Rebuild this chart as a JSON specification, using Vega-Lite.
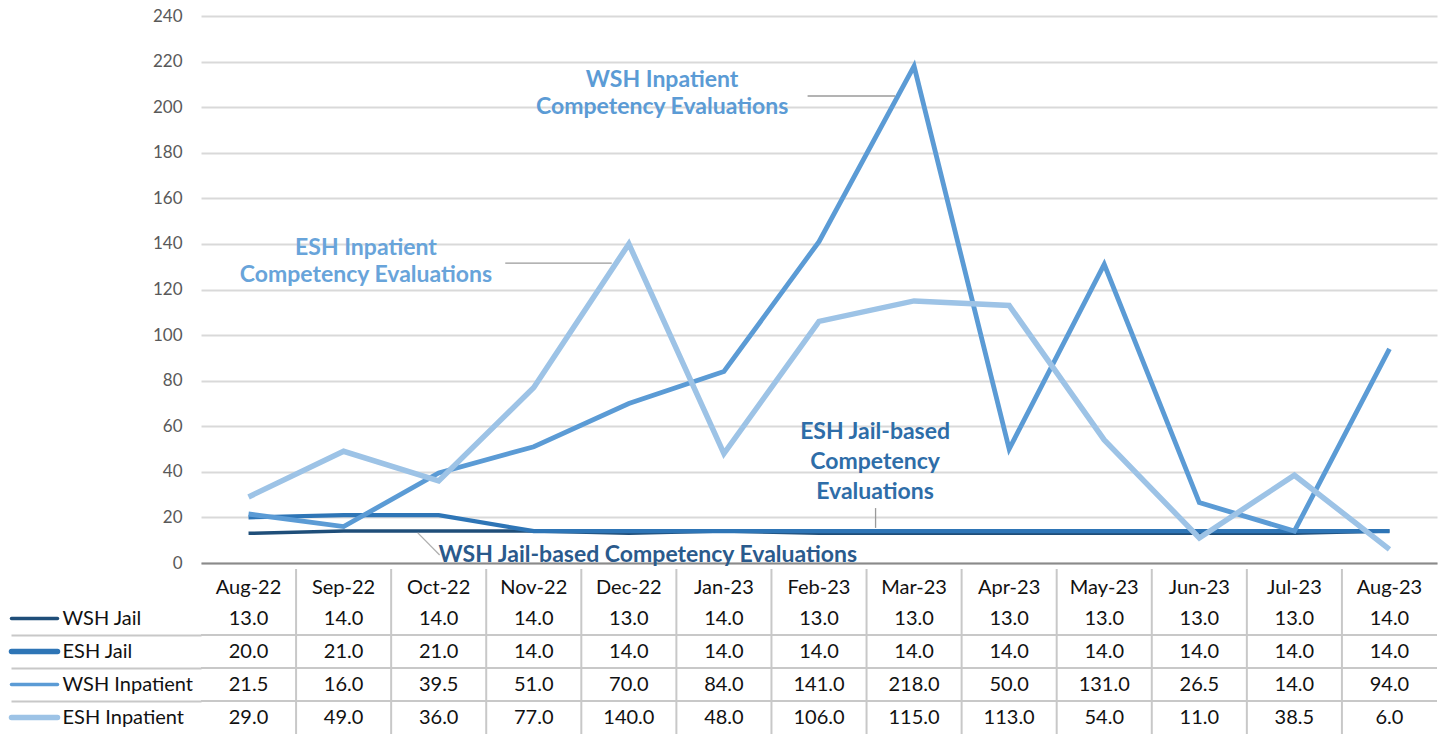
{
  "$schema": "https://vega.github.io/schema/vega-lite/v6.json",
  "padding": {"left": 8, "top": 7, "right": 0, "bottom": 0},
  "autosize": {"type": "pad"},
  "background": "white",
  "config": {"view": {"stroke": null}, "font": "Lato", "text": {"font": "Lato"}},
  "datasets": {
    "months": [
      {"month": "Aug-22"}, {"month": "Sep-22"}, {"month": "Oct-22"}, {"month": "Nov-22"}, {"month": "Dec-22"},
      {"month": "Jan-23"}, {"month": "Feb-23"}, {"month": "Mar-23"}, {"month": "Apr-23"}, {"month": "May-23"},
      {"month": "Jun-23"}, {"month": "Jul-23"}, {"month": "Aug-23"}
    ],
    "vals": [
      {"month": "Aug-22", "series": "WSH Jail", "value": 13},
      {"month": "Sep-22", "series": "WSH Jail", "value": 14},
      {"month": "Oct-22", "series": "WSH Jail", "value": 14},
      {"month": "Nov-22", "series": "WSH Jail", "value": 14},
      {"month": "Dec-22", "series": "WSH Jail", "value": 13},
      {"month": "Jan-23", "series": "WSH Jail", "value": 14},
      {"month": "Feb-23", "series": "WSH Jail", "value": 13},
      {"month": "Mar-23", "series": "WSH Jail", "value": 13},
      {"month": "Apr-23", "series": "WSH Jail", "value": 13},
      {"month": "May-23", "series": "WSH Jail", "value": 13},
      {"month": "Jun-23", "series": "WSH Jail", "value": 13},
      {"month": "Jul-23", "series": "WSH Jail", "value": 13},
      {"month": "Aug-23", "series": "WSH Jail", "value": 14},
      {"month": "Aug-22", "series": "ESH Jail", "value": 20},
      {"month": "Sep-22", "series": "ESH Jail", "value": 21},
      {"month": "Oct-22", "series": "ESH Jail", "value": 21},
      {"month": "Nov-22", "series": "ESH Jail", "value": 14},
      {"month": "Dec-22", "series": "ESH Jail", "value": 14},
      {"month": "Jan-23", "series": "ESH Jail", "value": 14},
      {"month": "Feb-23", "series": "ESH Jail", "value": 14},
      {"month": "Mar-23", "series": "ESH Jail", "value": 14},
      {"month": "Apr-23", "series": "ESH Jail", "value": 14},
      {"month": "May-23", "series": "ESH Jail", "value": 14},
      {"month": "Jun-23", "series": "ESH Jail", "value": 14},
      {"month": "Jul-23", "series": "ESH Jail", "value": 14},
      {"month": "Aug-23", "series": "ESH Jail", "value": 14},
      {"month": "Aug-22", "series": "WSH Inpatient", "value": 21.5},
      {"month": "Sep-22", "series": "WSH Inpatient", "value": 16},
      {"month": "Oct-22", "series": "WSH Inpatient", "value": 39.5},
      {"month": "Nov-22", "series": "WSH Inpatient", "value": 51},
      {"month": "Dec-22", "series": "WSH Inpatient", "value": 70},
      {"month": "Jan-23", "series": "WSH Inpatient", "value": 84},
      {"month": "Feb-23", "series": "WSH Inpatient", "value": 141},
      {"month": "Mar-23", "series": "WSH Inpatient", "value": 218},
      {"month": "Apr-23", "series": "WSH Inpatient", "value": 50},
      {"month": "May-23", "series": "WSH Inpatient", "value": 131},
      {"month": "Jun-23", "series": "WSH Inpatient", "value": 26.5},
      {"month": "Jul-23", "series": "WSH Inpatient", "value": 14},
      {"month": "Aug-23", "series": "WSH Inpatient", "value": 94},
      {"month": "Aug-22", "series": "ESH Inpatient", "value": 29},
      {"month": "Sep-22", "series": "ESH Inpatient", "value": 49},
      {"month": "Oct-22", "series": "ESH Inpatient", "value": 36},
      {"month": "Nov-22", "series": "ESH Inpatient", "value": 77},
      {"month": "Dec-22", "series": "ESH Inpatient", "value": 140},
      {"month": "Jan-23", "series": "ESH Inpatient", "value": 48},
      {"month": "Feb-23", "series": "ESH Inpatient", "value": 106},
      {"month": "Mar-23", "series": "ESH Inpatient", "value": 115},
      {"month": "Apr-23", "series": "ESH Inpatient", "value": 113},
      {"month": "May-23", "series": "ESH Inpatient", "value": 54},
      {"month": "Jun-23", "series": "ESH Inpatient", "value": 11},
      {"month": "Jul-23", "series": "ESH Inpatient", "value": 38.5},
      {"month": "Aug-23", "series": "ESH Inpatient", "value": 6}
    ]
  },
  "bounds": "flush",
  "spacing": 6,
  "vconcat": [
    {
      "width": 1236,
      "height": 547,
      "layer": [
        {
          "data": {"name": "vals"},
          "mark": {"type": "line"},
          "encoding": {
            "x": {
              "field": "month", "type": "ordinal", "bandPosition": 0.5,
              "scale": {"type": "band", "domain": ["Aug-22","Sep-22","Oct-22","Nov-22","Dec-22","Jan-23","Feb-23","Mar-23","Apr-23","May-23","Jun-23","Jul-23","Aug-23"], "paddingInner": 0, "paddingOuter": 0},
              "axis": {"labels": false, "ticks": false, "grid": false, "title": null, "domainColor": "#8a8a8a", "domainWidth": 2}
            },
            "y": {
              "field": "value", "type": "quantitative",
              "scale": {"domain": [0, 240], "nice": false},
              "axis": {"title": null, "values": [0,20,40,60,80,100,120,140,160,180,200,220,240], "domain": false, "ticks": false, "labelFontSize": 17, "labelColor": "#595959", "labelPadding": 19, "labelFont": "Lato", "gridColor": "#d9d9d9", "gridWidth": 2}
            },
            "color": {
              "field": "series", "type": "nominal",
              "scale": {"domain": ["WSH Jail","ESH Jail","WSH Inpatient","ESH Inpatient"], "range": ["#1F4E79","#2E75B6","#5B9BD5","#9DC3E6"]},
              "legend": null
            },
            "strokeWidth": {
              "field": "series", "type": "ordinal",
              "scale": {"domain": ["WSH Jail","ESH Jail","WSH Inpatient","ESH Inpatient"], "range": [3.5, 5.5, 3.5, 5.5]},
              "legend": null
            }
          }
        },
        {
          "layer": [
            {
              "data": {"values": [{}]},
              "mark": {"type": "text", "text": ["WSH Inpatient", "Competency Evaluations"], "align": "center", "baseline": "middle", "fontSize": 23, "fontWeight": "bold", "color": "#5B9BD5", "lineHeight": 27},
              "encoding": {
                "x": {"datum": 4.85, "type": "quantitative", "scale": {"domain": [0, 13]}, "axis": null},
                "y": {"datum": 211.9, "type": "quantitative"}
              }
            },
            {
              "data": {"values": [{}]},
              "mark": {"type": "text", "text": ["ESH Inpatient", "Competency Evaluations"], "align": "center", "baseline": "middle", "fontSize": 23, "fontWeight": "bold", "color": "#68A4DA", "lineHeight": 27},
              "encoding": {
                "x": {"datum": 1.735, "type": "quantitative", "scale": {"domain": [0, 13]}, "axis": null},
                "y": {"datum": 138.2, "type": "quantitative"}
              }
            },
            {
              "data": {"values": [{}]},
              "mark": {"type": "text", "text": ["ESH Jail-based", "Competency", "Evaluations"], "align": "center", "baseline": "middle", "fontSize": 23, "fontWeight": "bold", "color": "#2E6DA8", "lineHeight": 30},
              "encoding": {
                "x": {"datum": 7.09, "type": "quantitative", "scale": {"domain": [0, 13]}, "axis": null},
                "y": {"datum": 57.5, "type": "quantitative"}
              }
            },
            {
              "data": {"values": [{}]},
              "mark": {"type": "text", "text": "WSH Jail-based Competency Evaluations", "align": "center", "baseline": "middle", "fontSize": 23, "fontWeight": "bold", "color": "#2A5A8C"},
              "encoding": {
                "x": {"datum": 4.70, "type": "quantitative", "scale": {"domain": [0, 13]}, "axis": null},
                "y": {"datum": 3.6, "type": "quantitative"}
              }
            },
            {
              "data": {"values": [{}]},
              "mark": {"type": "rule", "color": "#9a9a9a", "strokeWidth": 1.3},
              "encoding": {
                "x": {"datum": 6.38, "type": "quantitative", "scale": {"domain": [0, 13]}, "axis": null},
                "x2": {"datum": 7.30},
                "y": {"datum": 204.9, "type": "quantitative"}
              }
            },
            {
              "data": {"values": [{}]},
              "mark": {"type": "rule", "color": "#9a9a9a", "strokeWidth": 1.3},
              "encoding": {
                "x": {"datum": 3.20, "type": "quantitative", "scale": {"domain": [0, 13]}, "axis": null},
                "x2": {"datum": 4.32},
                "y": {"datum": 131.6, "type": "quantitative"}
              }
            },
            {
              "data": {"values": [{}]},
              "mark": {"type": "rule", "color": "#9a9a9a", "strokeWidth": 1.3},
              "encoding": {
                "x": {"datum": 7.095, "type": "quantitative", "scale": {"domain": [0, 13]}, "axis": null},
                "y": {"datum": 24.1, "type": "quantitative"},
                "y2": {"datum": 15.4}
              }
            },
            {
              "data": {"values": [{}]},
              "mark": {"type": "rule", "color": "#b0b0b0", "strokeWidth": 1.3},
              "encoding": {
                "x": {"datum": 2.28, "type": "quantitative", "scale": {"domain": [0, 13]}, "axis": null},
                "x2": {"datum": 2.51},
                "y": {"datum": 13.2, "type": "quantitative"},
                "y2": {"datum": 3.5}
              }
            }
          ]
        }
      ],
      "resolve": {"scale": {"x": "independent"}}
    },
    {
      "width": 1236,
      "height": 165,
      "layer": [
        {
          "data": {"name": "months"},
          "transform": [{"filter": "datum.month !== 'Aug-22'"}],
          "mark": {"type": "rule", "color": "#c8c8c8", "strokeWidth": 2},
          "encoding": {
            "x": {
              "field": "month", "type": "ordinal", "bandPosition": 0,
              "scale": {"type": "band", "domain": ["Aug-22","Sep-22","Oct-22","Nov-22","Dec-22","Jan-23","Feb-23","Mar-23","Apr-23","May-23","Jun-23","Jul-23","Aug-23"], "paddingInner": 0, "paddingOuter": 0},
              "axis": null
            }
          }
        },
        {
          "data": {"name": "vals"},
          "transform": [{"filter": "datum.month === 'Aug-22' && datum.series !== 'WSH Jail'"}],
          "mark": {"type": "rule", "color": "#c8c8c8", "strokeWidth": 2},
          "encoding": {
            "y": {
              "field": "series", "type": "ordinal", "bandPosition": 0,
              "scale": {"type": "band", "domain": ["hdr","WSH Jail","ESH Jail","WSH Inpatient","ESH Inpatient"], "paddingInner": 0, "paddingOuter": 0},
              "axis": {
                "orient": "left", "domain": false, "labels": false, "title": null, "grid": false,
                "values": ["ESH Jail", "WSH Inpatient", "ESH Inpatient"],
                "ticks": true, "tickSize": 190, "tickColor": "#c8c8c8", "tickWidth": 2, "tickOffset": -16.5
              }
            }
          }
        },
        {
          "data": {"name": "months"},
          "mark": {"type": "text", "fontSize": 20, "color": "#111111", "baseline": "middle", "align": "center", "dy": 2},
          "encoding": {
            "x": {"field": "month", "type": "ordinal", "bandPosition": 0.5, "axis": null},
            "y": {"datum": "hdr", "type": "ordinal", "bandPosition": 0.5, "axis": null},
            "text": {"field": "month"}
          }
        },
        {
          "data": {"name": "vals"},
          "mark": {"type": "text", "fontSize": 20, "color": "#111111", "baseline": "middle", "align": "center", "dy": 0},
          "encoding": {
            "x": {"field": "month", "type": "ordinal", "bandPosition": 0.5, "axis": null},
            "y": {
              "field": "series", "type": "ordinal", "bandPosition": 0.5,
              "axis": {
                "orient": "left", "offset": 144, "domain": false, "grid": false, "title": null,
                "values": ["WSH Jail", "ESH Jail", "WSH Inpatient", "ESH Inpatient"],
                "ticks": true, "tickSize": 46, "tickCap": "round",
                "tickColor": {"condition": [
                  {"test": "datum.value === 'WSH Jail'", "value": "#1F4E79"},
                  {"test": "datum.value === 'ESH Jail'", "value": "#2E75B6"},
                  {"test": "datum.value === 'WSH Inpatient'", "value": "#5B9BD5"},
                  {"test": "datum.value === 'ESH Inpatient'", "value": "#9DC3E6"}
                ], "value": "#ffffff"},
                "tickWidth": {"condition": {"test": "datum.value === 'ESH Jail' || datum.value === 'ESH Inpatient'", "value": 5.5}, "value": 3.5},
                "labelAlign": "left", "labelBaseline": "middle", "labelPadding": -51, "labelFontSize": 20, "labelColor": "#111111", "labelFont": "Lato", "labelOverlap": false, "labelFlush": false, "labelBound": false
              }
            },
            "text": {"field": "value", "type": "quantitative", "format": ".1f"}
          }
        }
      ],
      "resolve": {"axis": {"y": "independent"}}
    }
  ]
}
